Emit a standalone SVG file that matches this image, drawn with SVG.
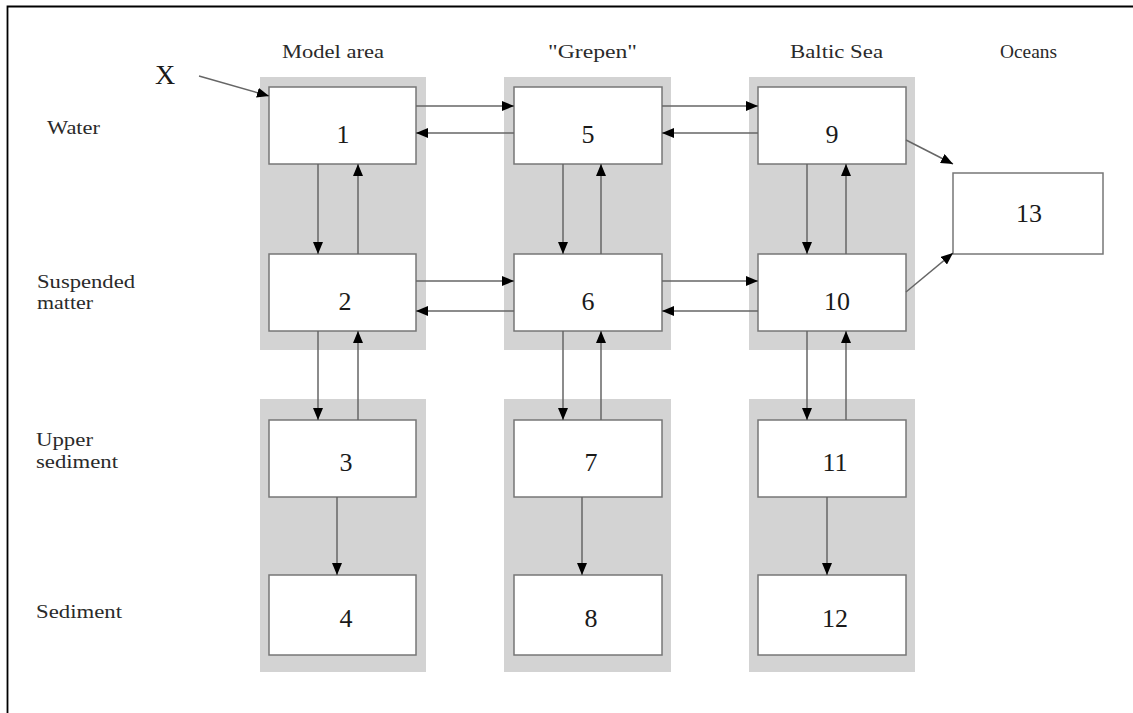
<svg xmlns="http://www.w3.org/2000/svg" width="1133" height="713" viewBox="0 0 1133 713">
<style>
.panel{fill:#d3d3d3}
.box{fill:#fff;stroke:#777;stroke-width:1.5}
.num{font-family:"Liberation Serif","Times New Roman",serif;font-size:26px;fill:#1a1a1a;text-anchor:middle}
.lbl{font-family:"Liberation Serif","Times New Roman",serif;font-size:19px;fill:#2a2a2a}
.c{fill:none;stroke:#666;stroke-width:1.5}
</style>
<defs>
<marker id="ah" viewBox="0 0 12 10" refX="12" refY="5" markerWidth="12" markerHeight="10" markerUnits="userSpaceOnUse" orient="auto">
<path d="M0,0 L12,5 L0,10 Z" fill="#000"/>
</marker>
</defs>
<rect width="1133" height="713" fill="#fff"/>
<path d="M7.5,713 V6.5 H1133" fill="none" stroke="#000" stroke-width="1.8"/>
<g id="panels">
<rect class="panel" x="260" y="77" width="166" height="273"/>
<rect class="panel" x="504" y="77" width="167" height="273"/>
<rect class="panel" x="749" y="77" width="166" height="273"/>
<rect class="panel" x="260" y="399" width="166" height="273"/>
<rect class="panel" x="504" y="399" width="167" height="273"/>
<rect class="panel" x="749" y="399" width="166" height="273"/>
</g>
<g id="labels">
<text class="lbl" x="282" y="58" textLength="102" lengthAdjust="spacingAndGlyphs">Model area</text>
<text class="lbl" x="548" y="58" textLength="89" lengthAdjust="spacingAndGlyphs">"Grepen"</text>
<text class="lbl" x="790" y="58" textLength="93" lengthAdjust="spacingAndGlyphs">Baltic Sea</text>
<text class="lbl" x="1000" y="58" textLength="57" lengthAdjust="spacingAndGlyphs">Oceans</text>
<text class="lbl" x="47" y="134" textLength="53" lengthAdjust="spacingAndGlyphs">Water</text>
<text class="lbl" x="37" y="288" textLength="98" lengthAdjust="spacingAndGlyphs">Suspended</text>
<text class="lbl" x="37" y="309" textLength="56" lengthAdjust="spacingAndGlyphs">matter</text>
<text class="lbl" x="36" y="446" textLength="57" lengthAdjust="spacingAndGlyphs">Upper</text>
<text class="lbl" x="36" y="468" textLength="82" lengthAdjust="spacingAndGlyphs">sediment</text>
<text class="lbl" x="36" y="618" textLength="86" lengthAdjust="spacingAndGlyphs">Sediment</text>
<text x="155" y="84" font-family="Liberation Serif, serif" font-size="28" fill="#1a1a1a">X</text>
</g>
<g id="n1"><rect class="box" x="269" y="87" width="147" height="77"/><text class="num" x="343" y="143">1</text></g>
<g id="n2"><rect class="box" x="269" y="254" width="147" height="77"/><text class="num" x="345" y="310">2</text></g>
<g id="n3"><rect class="box" x="269" y="420" width="147" height="77"/><text class="num" x="346" y="471">3</text></g>
<g id="n4"><rect class="box" x="269" y="575" width="147" height="80"/><text class="num" x="346" y="627">4</text></g>
<g id="n5"><rect class="box" x="514" y="87" width="148" height="77"/><text class="num" x="588" y="143">5</text></g>
<g id="n6"><rect class="box" x="514" y="254" width="148" height="77"/><text class="num" x="588" y="310">6</text></g>
<g id="n7"><rect class="box" x="514" y="420" width="148" height="77"/><text class="num" x="591" y="471">7</text></g>
<g id="n8"><rect class="box" x="514" y="575" width="148" height="80"/><text class="num" x="591" y="627">8</text></g>
<g id="n9"><rect class="box" x="758" y="87" width="148" height="77"/><text class="num" x="832" y="143">9</text></g>
<g id="n10"><rect class="box" x="758" y="254" width="148" height="77"/><text class="num" x="837" y="310">10</text></g>
<g id="n11"><rect class="box" x="758" y="420" width="148" height="77"/><text class="num" x="835" y="471">11</text></g>
<g id="n12"><rect class="box" x="758" y="575" width="148" height="80"/><text class="num" x="835" y="627">12</text></g>
<g id="n13"><rect class="box" x="953" y="173" width="150" height="81"/><text class="num" x="1029" y="222">13</text></g>
<g id="connectors">
<path class="c" d="M199,76 L269,96" marker-end="url(#ah)"/>
<path class="c" d="M416,106 H514" marker-end="url(#ah)"/>
<path class="c" d="M514,133 H416" marker-end="url(#ah)"/>
<path class="c" d="M416,281 H514" marker-end="url(#ah)"/>
<path class="c" d="M514,311 H416" marker-end="url(#ah)"/>
<path class="c" d="M662,106 H758" marker-end="url(#ah)"/>
<path class="c" d="M758,133 H662" marker-end="url(#ah)"/>
<path class="c" d="M662,281 H758" marker-end="url(#ah)"/>
<path class="c" d="M758,311 H662" marker-end="url(#ah)"/>
<path class="c" d="M318,164 V254" marker-end="url(#ah)"/>
<path class="c" d="M358,254 V164" marker-end="url(#ah)"/>
<path class="c" d="M318,331 V420" marker-end="url(#ah)"/>
<path class="c" d="M358,420 V331" marker-end="url(#ah)"/>
<path class="c" d="M337,497 V575" marker-end="url(#ah)"/>
<path class="c" d="M563,164 V254" marker-end="url(#ah)"/>
<path class="c" d="M601,254 V164" marker-end="url(#ah)"/>
<path class="c" d="M563,331 V420" marker-end="url(#ah)"/>
<path class="c" d="M601,420 V331" marker-end="url(#ah)"/>
<path class="c" d="M582,497 V575" marker-end="url(#ah)"/>
<path class="c" d="M807,164 V254" marker-end="url(#ah)"/>
<path class="c" d="M846,254 V164" marker-end="url(#ah)"/>
<path class="c" d="M807,331 V420" marker-end="url(#ah)"/>
<path class="c" d="M846,420 V331" marker-end="url(#ah)"/>
<path class="c" d="M827,497 V575" marker-end="url(#ah)"/>
<path class="c" d="M906,140 L953,164" marker-end="url(#ah)"/>
<path class="c" d="M906,292 L953,253" marker-end="url(#ah)"/>
</g>
</svg>
